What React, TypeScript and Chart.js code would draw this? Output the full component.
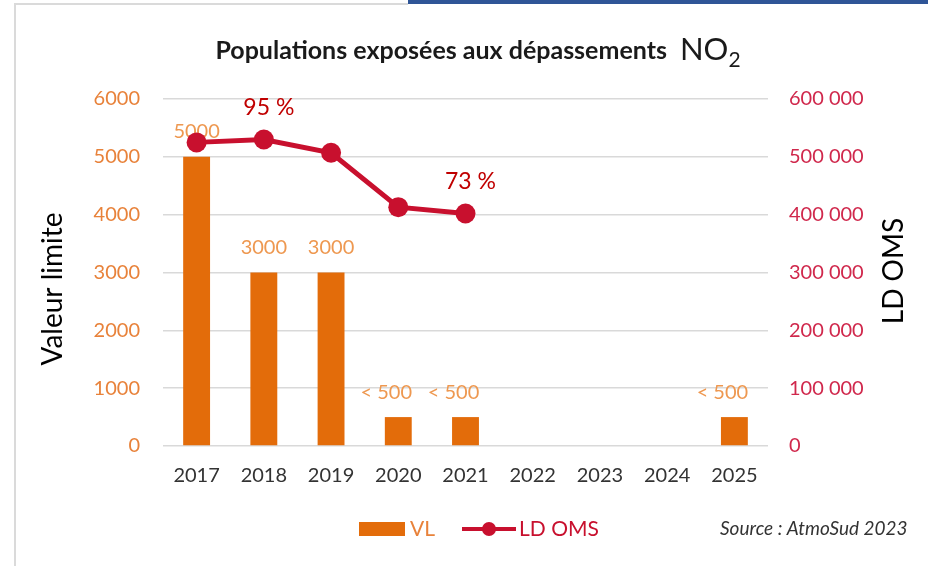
import React, { useEffect, useRef } from "react";
import { Chart, registerables } from "chart.js";

Chart.register(...registerables);

// ---------- data ----------
const years = ["2017", "2018", "2019", "2020", "2021", "2022", "2023", "2024", "2025"];
const vlValues: (number | null)[] = [5000, 3000, 3000, 500, 500, null, null, null, 500];
const vlLabels = ["5000", "3000", "3000", "< 500", "< 500", "", "", "", "< 500"];
const ldOmsValues: (number | null)[] = [525000, 530000, 507000, 413000, 402000, null, null, null, null];
const ldOmsLabels = ["", "95 %", "", "", "73 %", "", "", "", ""];

const titleMain = "Populations exposées aux dépassements";
const titleMolecule = "NO";
const titleSub = "2";
const leftAxisTitle = "Valeur limite";
const rightAxisTitle = "LD OMS";
const legendVL = "VL";
const legendLD = "LD OMS";
const sourceText = "Source : AtmoSud 2023";

// ---------- styles ----------
const FONT = "Lato, 'Open Sans', sans-serif";
const BAR = "#E36C0A";
const BAR_TEXT = "#EE9850";
const LEFT_TICK = "#E8823A";
const LINE = "#C8102E";
const RIGHT_TICK = "#D0284C";
const PCT = "#C00000";
const GRID = "#D9D9D9";

const fmtSpace = (v: number) => String(v).replace(/\B(?=(\d{3})+(?!\d))/g, " ");

const annotate = {
  id: "annotate",
  afterDatasetDraw(chart: any, args: any) {
    if (args.index !== 0) return;
    const ctx = chart.ctx;
    const meta = chart.getDatasetMeta(0);
    ctx.save();
    ctx.font = `20px ${FONT}`;
    ctx.fillStyle = BAR_TEXT;
    ctx.textAlign = "center";
    ctx.textBaseline = "middle";
    meta.data.forEach((el: any, i: number) => {
      const t = vlLabels[i];
      if (!t) return;
      const dx = t.startsWith("<") ? -12 : 0;
      ctx.fillText(t, el.x + dx, el.y - 25);
    });
    ctx.restore();
  },
  afterDatasetsDraw(chart: any) {
    const ctx = chart.ctx;
    const meta = chart.getDatasetMeta(1);
    ctx.save();
    ctx.font = `23px ${FONT}`;
    ctx.fillStyle = PCT;
    ctx.textAlign = "center";
    ctx.textBaseline = "middle";
    meta.data.forEach((el: any, i: number) => {
      const t = ldOmsLabels[i];
      if (!t) return;
      ctx.fillText(t, el.x + 5, el.y - 32);
    });
    ctx.restore();
  },
  afterDraw(chart: any) {
    const ctx = chart.ctx;
    ctx.save();
    // title
    ctx.textBaseline = "alphabetic";
    ctx.textAlign = "left";
    ctx.fillStyle = "#1a1a1a";
    ctx.font = `bold 25px ${FONT}`;
    const wMain = ctx.measureText(titleMain).width;
    ctx.font = `31px ${FONT}`;
    const wMol = ctx.measureText(titleMolecule).width;
    ctx.font = `21px ${FONT}`;
    const wSub = ctx.measureText(titleSub).width;
    const gap = 13;
    const total = wMain + gap + wMol + wSub;
    let x = 478 - total / 2;
    ctx.font = `bold 25px ${FONT}`;
    ctx.fillText(titleMain, x, 59);
    x += wMain + gap;
    ctx.font = `31px ${FONT}`;
    ctx.fillText(titleMolecule, x, 60);
    x += wMol;
    ctx.font = `21px ${FONT}`;
    ctx.fillText(titleSub, x, 67);

    // axis titles
    ctx.fillStyle = "#000";
    ctx.font = `28px ${FONT}`;
    ctx.textAlign = "center";
    ctx.textBaseline = "middle";
    ctx.save();
    ctx.translate(53, 289);
    ctx.rotate(-Math.PI / 2);
    ctx.fillText(leftAxisTitle, 0, 0);
    ctx.restore();
    ctx.save();
    ctx.translate(894, 271);
    ctx.rotate(-Math.PI / 2);
    ctx.fillText(rightAxisTitle, 0, 0);
    ctx.restore();

    // legend
    const ly = 529;
    ctx.fillStyle = BAR;
    ctx.fillRect(359, ly - 7, 46, 14);
    ctx.font = `21px ${FONT}`;
    ctx.textAlign = "left";
    ctx.fillStyle = LEFT_TICK;
    ctx.fillText(legendVL, 410, ly);
    ctx.strokeStyle = LINE;
    ctx.lineWidth = 4;
    ctx.beginPath();
    ctx.moveTo(462, ly);
    ctx.lineTo(516, ly);
    ctx.stroke();
    ctx.fillStyle = LINE;
    ctx.beginPath();
    ctx.arc(489, ly, 7, 0, Math.PI * 2);
    ctx.fill();
    ctx.fillText(legendLD, 519, ly);

    // source
    ctx.font = `italic 19px ${FONT}`;
    ctx.fillStyle = "#333";
    ctx.fillText(sourceText, 720, ly);
    ctx.restore();
  },
};

export default function App() {
  const ref = useRef<HTMLCanvasElement>(null);
  useEffect(() => {
    if (!ref.current) return;
    const chart = new Chart(ref.current, {
      type: "bar",
      data: {
        labels: years,
        datasets: [
          {
            type: "bar",
            label: legendVL,
            data: vlValues,
            backgroundColor: BAR,
            yAxisID: "y",
            barPercentage: 0.4,
            categoryPercentage: 1,
            order: 2,
          },
          {
            type: "line",
            label: legendLD,
            data: ldOmsValues,
            borderColor: LINE,
            backgroundColor: LINE,
            borderWidth: 5,
            pointRadius: 10,
            pointBackgroundColor: LINE,
            pointBorderWidth: 0,
            yAxisID: "y1",
            spanGaps: false,
            order: 1,
          } as any,
        ],
      },
      options: {
        responsive: false,
        animation: false,
        devicePixelRatio: 1,
        layout: { padding: { top: 99, left: 0, right: 0, bottom: 0 } },
        plugins: {
          legend: { display: false },
          title: { display: false },
          tooltip: { enabled: false },
        },
        scales: {
          x: {
            grid: { display: false, drawTicks: false },
            border: { display: false },
            ticks: { color: "#333", font: { family: FONT, size: 20 }, padding: 18, maxRotation: 0 },
            afterFit: (s: any) => {
              s.height = 120;
            },
          },
          y: {
            position: "left",
            min: 0,
            max: 6000,
            ticks: {
              stepSize: 1000,
              color: LEFT_TICK,
              font: { family: FONT, size: 20 },
              padding: 23,
              callback: (v: any) => String(v),
            },
            grid: { color: GRID, lineWidth: 1.5, drawTicks: false },
            border: { display: false },
            afterFit: (s: any) => {
              s.width = 163;
            },
          },
          y1: {
            position: "right",
            min: 0,
            max: 600000,
            ticks: {
              stepSize: 100000,
              color: RIGHT_TICK,
              font: { family: FONT, size: 20 },
              padding: 21,
              callback: (v: any) => fmtSpace(Number(v)),
            },
            grid: { display: false, drawTicks: false },
            border: { display: false },
            afterFit: (s: any) => {
              s.width = 160;
            },
          },
        },
      },
      plugins: [annotate],
    });
    return () => chart.destroy();
  }, []);

  return (
    <div style={{ position: "fixed", left: 0, top: 0, width: 928, height: 566, background: "#fff", overflow: "hidden" }}>
      <div style={{ position: "absolute", left: 14, top: 3, width: 2, height: 563, background: "#DADADA" }} />
      <div style={{ position: "absolute", left: 14, top: 3, width: 394, height: 2, background: "#DADADA" }} />
      <div style={{ position: "absolute", left: 408, top: 0, width: 520, height: 4, background: "#2F5597" }} />
      <canvas ref={ref} width={928} height={566} style={{ position: "absolute", left: 0, top: 0, width: 928, height: 566 }} />
    </div>
  );
}
